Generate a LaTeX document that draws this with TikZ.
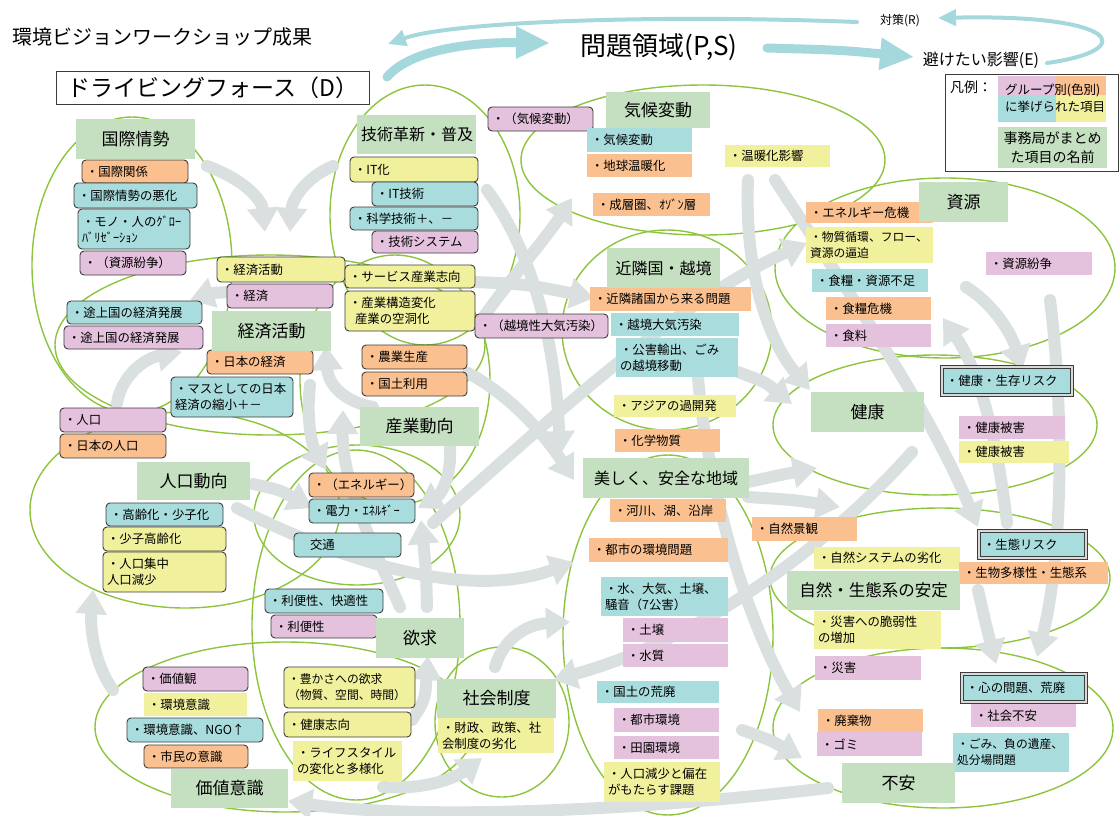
\documentclass[tikz,border=0pt]{standalone}
\usepackage{fontspec}
\setmainfont{Noto Sans CJK JP}
\usetikzlibrary{arrows.meta}
\definecolor{cy}{RGB}{169,220,221}
\definecolor{og}{RGB}{250,192,143}
\definecolor{pk}{RGB}{228,193,220}
\definecolor{yl}{RGB}{241,240,156}
\definecolor{gn}{RGB}{196,224,192}
\definecolor{el}{RGB}{141,196,62}
\definecolor{ga}{RGB}{218,223,223}
\definecolor{tl}{RGB}{164,216,220}
\definecolor{bd}{RGB}{60,60,60}
\tikzset{
 item/.style={inner xsep=4pt, inner ysep=0pt, outer sep=0pt, align=left, font=\fontsize{12.4}{16}\selectfont, anchor=north west},
 rb/.style={item, draw=bd, line width=0.9pt, rounded corners=4pt},
 pl/.style={item},
 db/.style={item, draw=bd, double=white!70!gray, double distance=1.2pt, line width=1pt},
 lbl/.style={item, fill=gn, align=center, font=\fontsize{17}{20}\selectfont},
 elp/.style={draw=el, line width=1.4pt},
 garr/.style={draw=ga, line width=12pt, line cap=round, -{Triangle[width=30pt,length=24pt]}},
 tthick/.style={draw=tl, line width=9pt, line cap=round, -{Triangle[width=30pt,length=34pt]}},
 tthin/.style={draw=tl, line width=4pt, line cap=round, -{Triangle[width=16pt,length=18pt]}},
}
\newcommand\ibox[7]{\pgfmathsetmacro\iboxw{#5-#3}\pgfmathsetmacro\iboxh{#6-#4}\pgfmathsetmacro\iboxt{#5-#3-8}%
 \node[#2, minimum width=\iboxw pt, minimum height=\iboxh pt, text width=\iboxt pt] (#1) at (#3,#4) {#7};}
\begin{document}
\begin{tikzpicture}[x=1pt,y=-1pt]
\useasboundingbox (0,0) rectangle (1120,815);
% ellipses
\draw[elp] (132,265) ellipse [x radius=100pt, y radius=148pt];
\draw[elp] (425,215) ellipse [x radius=95pt, y radius=130pt];
\draw[elp] (270,345) ellipse [x radius=215pt, y radius=90pt];
\draw[elp] (395,380) ellipse [x radius=95pt, y radius=125pt];
\draw[elp] (185,510) ellipse [x radius=155pt, y radius=98pt];
\draw[elp] (357,515) ellipse [x radius=103pt, y radius=70pt];
\draw[elp] (356,625) ellipse [x radius=104pt, y radius=175pt];
\draw[elp] (285,727) ellipse [x radius=190pt, y radius=85pt];
\draw[elp] (502,722) ellipse [x radius=67pt, y radius=75pt];
\draw[elp] (668,635) ellipse [x radius=105pt, y radius=180pt];
\draw[elp] (703,160) ellipse [x radius=182pt, y radius=75pt];
\draw[elp] (667,330) ellipse [x radius=105pt, y radius=100pt];
\draw[elp] (945,268) ellipse [x radius=170pt, y radius=90pt];
\draw[elp] (935,425) ellipse [x radius=162pt, y radius=70pt];
\draw[elp] (940,578) ellipse [x radius=170pt, y radius=70pt];
\draw[elp] (943,728) ellipse [x radius=170pt, y radius=80pt];
% gray arrows
\coordinate (ga1) at (207,166); \coordinate (ga2) at (265,232);
\draw[garr] (ga1) .. controls (245,180) and (262,200) .. (ga2);
\coordinate (gb1) at (333,166); \coordinate (gb2) at (290,232);
\draw[garr] (gb1) .. controls (305,178) and (292,200) .. (gb2);
\coordinate (gc1) at (228,292); \coordinate (gc2) at (190,300);
\draw[garr] (gc1) .. controls (212,293) .. (gc2);
\coordinate (gd1) at (117,403); \coordinate (gd2) at (182,352);
\draw[garr] (gd1) .. controls (122,375) and (145,358) .. (gd2);
\coordinate (ge1) at (310,385); \coordinate (ge2) at (326,470);
\draw[garr] (ge1) .. controls (306,420) and (312,445) .. (ge2);
\coordinate (gf1) at (373,407); \coordinate (gf2) at (326,346);
\draw[garr] (gf1) .. controls (345,402) and (328,385) .. (gf2);
\coordinate (gg1) at (253,484); \coordinate (gg2) at (312,508);
\draw[garr] (gg1) .. controls (280,490) .. (gg2);
\coordinate (gh1) at (237,508); \coordinate (gh2) at (574,562);
\draw[garr] (gh1) .. controls (350,565) and (470,600) .. (gh2);
\coordinate (gi1) at (427,607); \coordinate (gi2) at (421,520);
\draw[garr] (gi1) .. controls (426,570) .. (gi2);
\coordinate (gj1) at (400,607); \coordinate (gj2) at (343,410);
\draw[garr] (gj1) .. controls (370,540) and (342,480) .. (gj2);
\coordinate (gk1) at (450,445); \coordinate (gk2) at (418,508);
\draw[garr] (gk1) .. controls (452,478) and (440,495) .. (gk2);
\coordinate (gl1) at (433,523); \coordinate (gl2) at (807,243);
\draw[garr] (gl1) .. controls (560,410) and (680,300) .. (gl2);
\coordinate (gm1) at (468,373); \coordinate (gm2) at (574,480);
\draw[garr] (gm1) .. controls (515,398) and (548,440) .. (gm2);
\coordinate (go1) at (473,282); \coordinate (go2) at (594,298);
\draw[garr] (go1) .. controls (525,284) .. (go2);
\coordinate (gp1) at (478,325); \coordinate (gp2) at (572,198);
\draw[garr] (gp1) .. controls (505,285) and (545,240) .. (gp2);
\coordinate (gq1) at (487,190); \coordinate (gq2) at (560,455);
\draw[garr] (gq1) .. controls (535,255) and (556,350) .. (gq2);
\coordinate (gr1) at (697,362); \coordinate (gr2) at (800,712);
\draw[garr] (gr1) .. controls (702,460) and (740,610) .. (gr2);
\coordinate (gs1) at (748,180); \coordinate (gs2) at (810,390);
\draw[garr] (gs1) .. controls (744,280) and (772,345) .. (gs2);
\coordinate (gt1) at (775,180); \coordinate (gt2) at (978,527);
\draw[garr] (gt1) .. controls (840,280) and (925,400) .. (gt2);
\coordinate (gu1) at (966,287); \coordinate (gu2) at (1022,370);
\draw[garr] (gu1) .. controls (995,305) and (1012,335) .. (gu2);
\coordinate (gv1) at (1050,300); \coordinate (gv2) at (1037,657);
\draw[garr] (gv1) .. controls (1065,420) and (1062,560) .. (gv2);
\coordinate (gw1) at (1007,523); \coordinate (gw2) at (943,318);
\draw[garr] (gw1) .. controls (995,420) and (975,365) .. (gw2);
\coordinate (gx1) at (978,590); \coordinate (gx2) at (996,664);
\draw[garr] (gx1) .. controls (986,625) .. (gx2);
\coordinate (gy1) at (748,482); \coordinate (gy2) at (817,468);
\draw[garr] (gy1) .. controls (780,475) .. (gy2);
\coordinate (gy3) at (748,497); \coordinate (gy4) at (840,507);
\draw[garr] (gy3) .. controls (795,500) .. (gy4);
\coordinate (gz1) at (912,452); \coordinate (gz2) at (553,680);
\draw[garr] (gz1) .. controls (830,545) and (700,640) .. (gz2);
\coordinate (gaa1) at (495,667); \coordinate (gaa2) at (570,622);
\draw[garr] (gaa1) .. controls (505,635) and (530,624) .. (gaa2);
\coordinate (gbb1) at (383,787); \coordinate (gbb2) at (482,758);
\draw[garr] (gbb1) .. controls (425,790) and (455,778) .. (gbb2);
\coordinate (gcc1) at (828,788); \coordinate (gcc2) at (288,801);
\draw[garr] (gcc1) .. controls (600,815) and (400,818) .. (gcc2);
\coordinate (gdd1) at (113,690); \coordinate (gdd2) at (93,590);
\draw[garr] (gdd1) .. controls (95,665) and (90,630) .. (gdd2);
\coordinate (gee1) at (742,730); \coordinate (gee2) at (802,758);
\draw[garr] (gee1) .. controls (770,740) .. (gee2);
\coordinate (gff1) at (412,720); \coordinate (gff2) at (428,656);
\draw[garr] (gff1) .. controls (425,700) .. (gff2);
\coordinate (ggg1) at (738,372); \coordinate (ggg2) at (792,404);
\draw[garr] (ggg1) .. controls (765,382) .. (ggg2);
% title, header
\node[font=\fontsize{20}{24}\selectfont, anchor=west, inner sep=0pt] (title) at (12,37) {環境ビジョンワークショップ成果};
\node[draw=bd, line width=1pt, fill=white, minimum width=313pt, minimum height=33pt, anchor=north west, inner sep=0pt, font=\fontsize{23}{27}\selectfont] (D) at (56,71) {ドライビングフォース（D）};
\node[font=\fontsize{26}{30}\selectfont, inner sep=0pt] (PS) at (659,47) {問題領域(P,S)};
\node[font=\fontsize{16}{19}\selectfont, inner sep=0pt] (E) at (981,60) {避けたい影響(E)};
\node[font=\fontsize{12}{14}\selectfont, inner sep=0pt] (R) at (900,21) {対策(R)};
\coordinate (t1s) at (387,77); \coordinate (t1e) at (550,43);
\draw[tthick] (t1s) .. controls (410,50) and (470,42) .. (t1e);
\coordinate (t2s) at (767,48); \coordinate (t2e) at (914,57);
\draw[tthick] (t2s) .. controls (840,50) .. (t2e);
\coordinate (t3s) at (1047,63); \coordinate (t3e) at (938,18);
\draw[tthin] (t3s) .. controls (1140,50) and (1120,14) .. (t3e);
\coordinate (t4s) at (857,22); \coordinate (t4e) at (388,44);
\draw[tthin] (t4s) .. controls (650,14) and (450,22) .. (t4e);
% legend
\node[draw=bd, line width=1pt, fill=white, minimum width=173pt, minimum height=97pt, anchor=north west, inner sep=0pt] (leg) at (945,74) {};
\node[anchor=north west, inner sep=0pt, font=\fontsize{14}{16}\selectfont] (legt) at (950,81) {凡例：};
\node[fill=pk, minimum width=58pt, minimum height=19pt, anchor=north west, inner sep=0pt] (lq1) at (998,76) {};
\node[fill=og, minimum width=50pt, minimum height=19pt, anchor=north west, inner sep=0pt] (lq2) at (1056,76) {};
\node[fill=cy, minimum width=58pt, minimum height=27pt, anchor=north west, inner sep=0pt] (lq3) at (998,95) {};
\node[fill=yl, minimum width=50pt, minimum height=27pt, anchor=north west, inner sep=0pt] (lq4) at (1056,95) {};
\node[anchor=west, inner sep=0pt, font=\fontsize{12.5}{15}\selectfont] (lt1) at (1005,90) {グループ別(色別)};
\node[anchor=west, inner sep=0pt, font=\fontsize{12.5}{15}\selectfont] (lt2) at (1005,107) {に挙げられた項目};
\node[fill=gn, minimum width=109pt, minimum height=41pt, anchor=north west, inner sep=0pt, align=center, font=\fontsize{14}{19}\selectfont] (lg) at (998,127) {事務局がまとめ\\た項目の名前};
% items: driving force side
\ibox{k1}{rb,fill=og}{82}{160}{188}{183}{・国際関係}
\ibox{k2}{rb,fill=cy}{74}{183}{197}{208}{・国際情勢の悪化}
\ibox{k3}{rb,fill=cy}{78}{209}{190}{249}{・モノ・人のｸﾞﾛｰ\\ﾊﾞﾘｾﾞｰｼｮﾝ}
\ibox{k4}{rb,fill=pk}{80}{251}{186}{275}{・（資源紛争）}
\ibox{ke1}{rb,fill=yl}{217}{257}{345}{282}{・経済活動}
\ibox{ke2}{rb,fill=pk}{227}{284}{333}{308}{・経済}
\ibox{ke3}{rb,fill=cy}{67}{301}{202}{324}{・途上国の経済発展}
\ibox{ke4}{rb,fill=pk}{64}{326}{203}{349}{・途上国の経済発展}
\ibox{ke5}{rb,fill=og}{207}{350}{313}{374}{・日本の経済}
\ibox{ke6}{rb,fill=cy}{171}{377}{293}{417}{・マスとしての日本\\経済の縮小＋－}
\ibox{j1}{rb,fill=pk}{60}{408}{166}{432}{・人口}
\ibox{j2}{rb,fill=og}{60}{434}{166}{458}{・日本の人口}
\ibox{j3}{rb,fill=cy}{106}{503}{223}{526}{・高齢化・少子化}
\ibox{j4}{rb,fill=yl}{103}{527}{226}{551}{・少子高齢化}
\ibox{j5}{rb,fill=yl}{103}{552}{226}{592}{・人口集中\\人口減少}
\ibox{g1}{rb,fill=yl}{350}{157}{478}{182}{・IT化}
\ibox{g2}{rb,fill=cy}{372}{182}{478}{206}{・IT技術}
\ibox{g3}{rb,fill=cy}{350}{207}{478}{230}{・科学技術＋、－}
\ibox{g4}{rb,fill=pk}{372}{231}{478}{253}{・技術システム}
\ibox{s1}{rb,fill=yl}{345}{265}{475}{288}{・サービス産業志向}
\ibox{s2}{rb,fill=yl}{345}{291}{475}{331}{・産業構造変化\\\hspace*{6pt}産業の空洞化}
\ibox{s3}{rb,fill=og}{362}{345}{467}{369}{・農業生産}
\ibox{s4}{rb,fill=og}{362}{372}{467}{396}{・国土利用}
\ibox{s5}{rb,fill=pk}{475}{314}{608}{338}{・（越境性大気汚染）}
\ibox{c0}{rb,fill=pk}{488}{107}{593}{131}{・（気候変動）}
\ibox{e1}{rb,fill=og}{309}{473}{414}{497}{・（エネルギー）}
\ibox{e2}{rb,fill=cy}{309}{499}{415}{523}{・電力・ｴﾈﾙｷﾞｰ}
\ibox{e3}{rb,fill=cy}{294}{533}{401}{557}{\hspace*{12pt}交通}
\ibox{y1}{rb,fill=cy}{265}{589}{383}{613}{・利便性、快適性}
\ibox{y2}{rb,fill=pk}{271}{615}{377}{638}{・利便性}
\ibox{y3}{rb,fill=yl,font=\fontsize{11.8}{16}\selectfont}{284}{667}{415}{708}{・豊かさへの欲求\\（物質、空間、時間）}
\ibox{y4}{rb,fill=yl}{284}{712}{411}{737}{・健康志向}
\ibox{y5}{pl,fill=yl}{293}{741}{402}{781}{・ライフスタイル\\の変化と多様化}
\ibox{v1}{rb,fill=pk}{143}{667}{248}{691}{・価値観}
\ibox{v2}{pl,fill=yl}{144}{693}{247}{716}{・環境意識}
\ibox{v3}{rb,fill=cy}{127}{718}{263}{742}{・環境意識、NGO↑}
\ibox{v4}{rb,fill=og}{144}{745}{248}{768}{・市民の意識}
\ibox{sh1}{pl,fill=yl}{438}{718}{554}{753}{・財政、政策、社\\会制度の劣化}
% items: problem side
\ibox{c1}{pl,fill=cy}{587}{128}{692}{152}{・気候変動}
\ibox{c2}{pl,fill=og}{587}{154}{692}{177}{・地球温暖化}
\ibox{c3}{pl,fill=og}{593}{193}{710}{216}{・成層圏、ｵｿﾞﾝ層}
\ibox{c4}{pl,fill=yl}{725}{145}{830}{167}{・温暖化影響}
\ibox{n1}{pl,fill=og}{590}{287}{751}{311}{・近隣諸国から来る問題}
\ibox{n2}{pl,fill=cy}{611}{313}{739}{336}{・越境大気汚染}
\ibox{n3}{pl,fill=cy}{616}{338}{738}{377}{・公害輸出、ごみ\\の越境移動}
\ibox{n4}{pl,fill=yl}{614}{395}{736}{417}{・アジアの過開発}
\ibox{n5}{pl,fill=og}{615}{429}{720}{452}{・化学物質}
\ibox{b1}{pl,fill=og}{610}{499}{726}{522}{・河川、湖、沿岸}
\ibox{b2}{pl,fill=og}{589}{538}{728}{562}{・都市の環境問題}
\ibox{b3}{pl,fill=cy}{601}{577}{728}{616}{・水、大気、土壌、\\騒音（7公害）}
\ibox{b4}{pl,fill=pk}{623}{618}{728}{642}{・土壌}
\ibox{b5}{pl,fill=pk}{623}{644}{728}{667}{・水質}
\ibox{b6}{pl,fill=cy}{597}{681}{719}{703}{・国土の荒廃}
\ibox{b7}{pl,fill=pk}{614}{708}{719}{732}{・都市環境}
\ibox{b8}{pl,fill=pk}{614}{736}{719}{759}{・田園環境}
\ibox{b9}{pl,fill=yl}{604}{762}{720}{802}{・人口減少と偏在\\がもたらす課題}
\ibox{r1}{pl,fill=og}{806}{202}{933}{223}{・エネルギー危機}
\ibox{r2}{pl,fill=yl,font=\fontsize{11.8}{16}\selectfont}{806}{227}{933}{263}{・物質循環、フロー、\\資源の逼迫}
\ibox{r3}{pl,fill=cy}{812}{269}{928}{292}{・食糧・資源不足}
\ibox{r4}{pl,fill=og}{826}{297}{931}{320}{・食糧危機}
\ibox{r5}{pl,fill=pk}{826}{324}{931}{347}{・食料}
\ibox{r6}{pl,fill=pk}{986}{252}{1092}{275}{・資源紛争}
\ibox{h1}{db,fill=cy}{942}{367}{1072}{395}{・健康・生存リスク}
\ibox{h2}{pl,fill=pk}{959}{416}{1065}{439}{・健康被害}
\ibox{h3}{pl,fill=yl}{959}{441}{1069}{463}{・健康被害}
\ibox{ns0}{pl,fill=og}{752}{517}{857}{541}{・自然景観}
\ibox{ns1}{pl,fill=yl}{814}{547}{960}{569}{・自然システムの劣化}
\ibox{ns2}{db,fill=cy}{979}{531}{1086}{558}{・生態リスク}
\ibox{ns3}{pl,fill=og}{959}{562}{1108}{584}{・生物多様性・生態系}
\ibox{ns4}{pl,fill=yl}{814}{611}{941}{649}{・災害への脆弱性\\の増加}
\ibox{ns5}{pl,fill=pk}{815}{656}{921}{680}{・災害}
\ibox{f1}{pl,fill=og}{818}{709}{923}{732}{・廃棄物}
\ibox{f2}{pl,fill=pk}{817}{732}{922}{756}{・ゴミ}
\ibox{f3}{db,fill=cy}{962}{674}{1086}{702}{・心の問題、荒廃}
\ibox{f4}{pl,fill=pk}{971}{704}{1076}{727}{・社会不安}
\ibox{f5}{pl,fill=cy,font=\fontsize{11.8}{16}\selectfont}{953}{733}{1069}{772}{・ごみ、負の遺産、\\処分場問題}
% group labels
\ibox{L1}{lbl}{76}{119}{195}{159}{国際情勢}
\ibox{L2}{lbl,font=\fontsize{16}{19}\selectfont}{357}{115}{476}{154}{技術革新・普及}
\ibox{L3}{lbl}{212}{311}{331}{351}{経済活動}
\ibox{L4}{lbl}{360}{407}{479}{446}{産業動向}
\ibox{L5}{lbl}{137}{462}{250}{500}{人口動向}
\ibox{L6}{lbl}{376}{618}{464}{658}{欲求}
\ibox{L7}{lbl}{171}{769}{288}{808}{価値意識}
\ibox{L8}{lbl}{437}{679}{556}{718}{社会制度}
\ibox{L9}{lbl}{606}{92}{710}{128}{気候変動}
\ibox{L10}{lbl,font=\fontsize{16}{19}\selectfont}{607}{248}{720}{288}{近隣国・越境}
\ibox{L11}{lbl,font=\fontsize{16}{19}\selectfont}{583}{458}{749}{498}{美しく、安全な地域}
\ibox{L12}{lbl}{811}{392}{924}{432}{健康}
\ibox{L13}{lbl}{919}{182}{1008}{222}{資源}
\ibox{L14}{lbl,font=\fontsize{16.5}{19}\selectfont}{787}{571}{960}{610}{自然・生態系の安定}
\ibox{L15}{lbl}{842}{763}{955}{803}{不安}
\end{tikzpicture}
\end{document}
